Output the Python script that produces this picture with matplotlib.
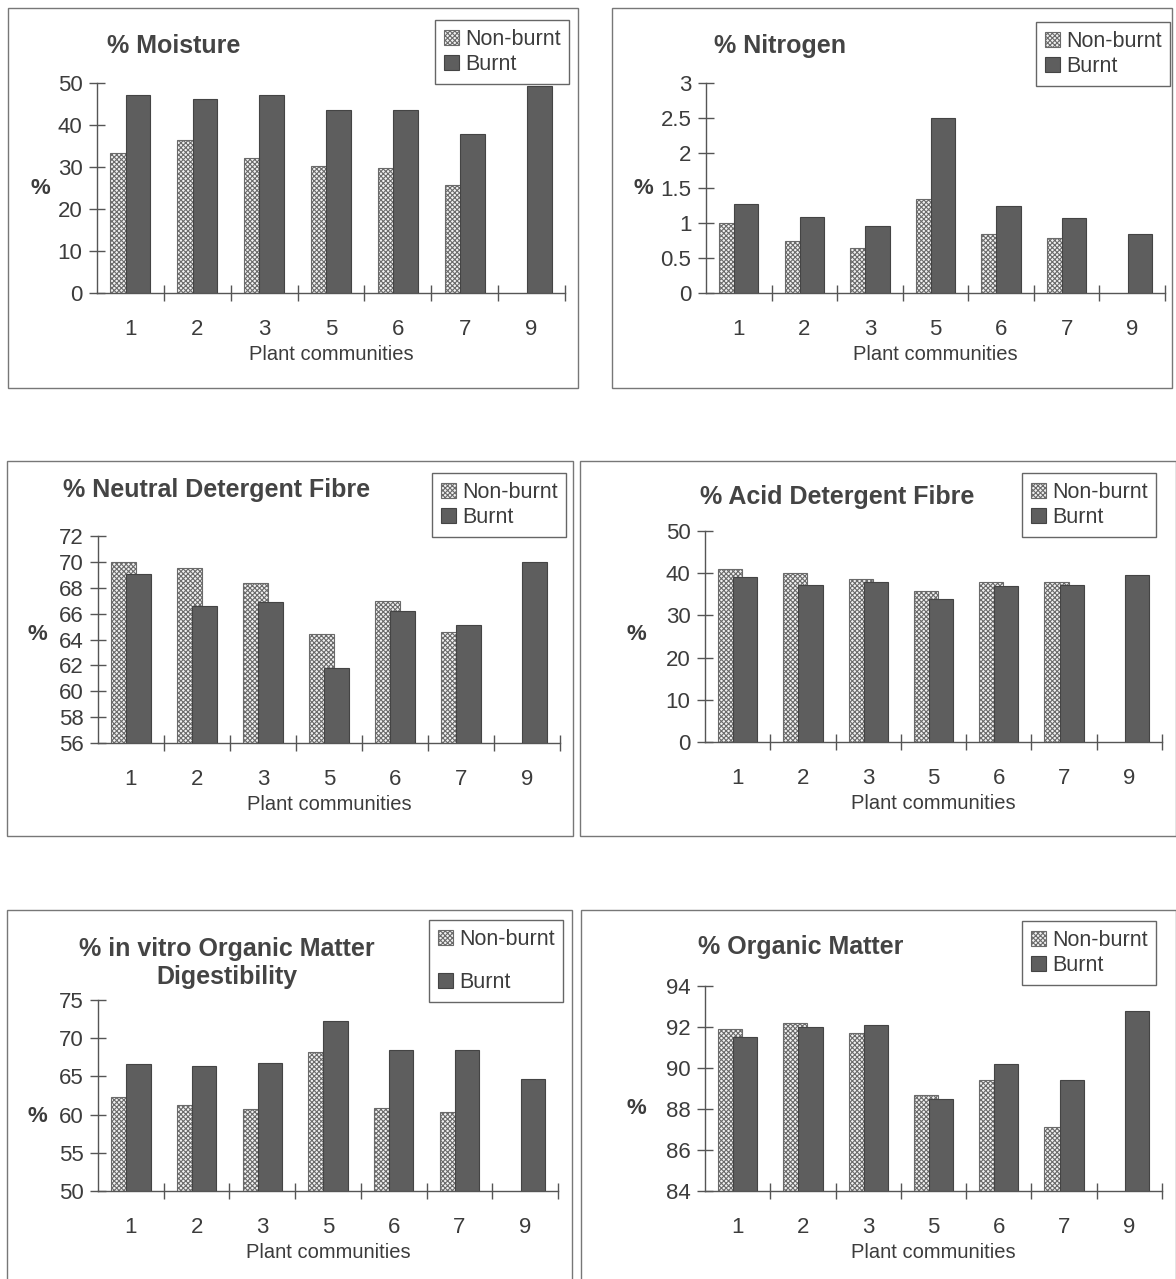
import matplotlib.pyplot as plt
import numpy as np
from matplotlib.patches import Rectangle, Patch

plt.rcParams['font.family'] = ['Liberation Sans', 'DejaVu Sans']
plt.rcParams['hatch.linewidth'] = 0.8

communities = ['1', '2', '3', '5', '6', '7', '9']

moisture_nb = [33.3, 36.5, 32.2, 30.2, 29.8, 25.8, np.nan]
moisture_b = [47.2, 46.1, 47.1, 43.6, 43.6, 37.8, 49.3]

nitrogen_nb = [1.0, 0.74, 0.65, 1.34, 0.85, 0.79, np.nan]
nitrogen_b = [1.27, 1.09, 0.96, 2.5, 1.25, 1.07, 0.84]

ndf_nb = [70.0, 69.5, 68.4, 64.4, 67.0, 64.6, np.nan]
ndf_b = [69.1, 66.6, 66.9, 61.8, 66.2, 65.1, 70.0]

adf_nb = [40.9, 40.0, 38.6, 35.7, 37.9, 37.9, np.nan]
adf_b = [39.1, 37.1, 38.0, 33.8, 37.0, 37.1, 39.5]

ivomd_nb = [62.3, 61.3, 60.7, 68.2, 60.8, 60.3, np.nan]
ivomd_b = [66.6, 66.3, 66.8, 72.3, 68.5, 68.5, 64.7]

om_nb = [91.9, 92.2, 91.7, 88.7, 89.4, 87.1, np.nan]
om_b = [91.5, 92.0, 92.1, 88.5, 90.2, 89.4, 92.8]

W, H = 1176, 1279
TXT = '#3c3c3c'
AXC = '#555555'
DARK = '#5e5e5e'
HATCH_EDGE = '#6a6a6a'

fig = plt.figure(figsize=(W / 100, H / 100), dpi=100)


def fx(x):
    return x / W


def fy(y):
    return 1 - y / H


# (title, non-burnt, burnt, ylim, ticks,
#  frame box, axes box, title x/y/align, legend top-left, legend row gap, % label xy)
panels = [
    ('% Moisture', moisture_nb, moisture_b, (0, 50), np.arange(0, 51, 10),
     (8, 8, 578, 388), (97, 83, 565, 293), (107, 46, 'left'), (435, 20), 0.2, (40, 188)),
    ('% Nitrogen', nitrogen_nb, nitrogen_b, (0, 3), np.arange(0, 3.01, 0.5),
     (612, 8, 1172, 388), (706, 83, 1165, 293), (714, 46, 'left'), (1036, 22), 0.2, (643, 188)),
    ('% Neutral Detergent Fibre', ndf_nb, ndf_b, (56, 72), np.arange(56, 73, 2),
     (7, 461, 573, 836), (98, 536, 560, 743), (63, 490, 'left'), (432, 473), 0.2, (37, 635)),
    ('% Acid Detergent Fibre', adf_nb, adf_b, (0, 50), np.arange(0, 51, 10),
     (580, 461, 1176, 836), (705, 531, 1162, 742), (700, 497, 'left'), (1022, 473), 0.2, (636, 634)),
    ('% in vitro Organic Matter\nDigestibility', ivomd_nb, ivomd_b, (50, 75), np.arange(50, 76, 5),
     (7, 910, 572, 1290), (98, 1000, 558, 1191), (227, 963, 'center'), (429, 920), 1.05, (37, 1117)),
    ('% Organic Matter', om_nb, om_b, (84, 94), np.arange(84, 95, 2),
     (581, 910, 1176, 1290), (705, 986, 1162, 1191), (698, 947, 'left'), (1022, 921), 0.2, (636, 1108)),
]

x = np.arange(len(communities))
bw = 0.37
shift = 0.115

for (title, nb, b, ylim, ticks, frame, abox, tpos, lpos, gap, ppos) in panels:
    # outer chart border
    fx0, fy0, fx1, fy1 = frame
    fig.patches.append(Rectangle((fx(fx0), fy(fy1)), fx(fx1 - fx0), (fy1 - fy0) / H,
                                 transform=fig.transFigure, fill=False,
                                 edgecolor='#777777', linewidth=1.0))

    l, t, r, btm = abox
    ax = fig.add_axes([fx(l), fy(btm), fx(r - l), (btm - t) / H])
    ax.set_facecolor('none')

    nb_arr = np.array(nb, dtype=float)
    ok = ~np.isnan(nb_arr)
    base = ylim[0]
    ax.bar(x[ok] - shift, nb_arr[ok] - base, bw, bottom=base, color='#f2f2f2',
           edgecolor=HATCH_EDGE, hatch='xxxxxxx', linewidth=0.8, zorder=2)
    ax.bar(x + shift, np.array(b) - base, bw, bottom=base, color=DARK,
           edgecolor='#444444', linewidth=0.8, zorder=3)

    ax.set_xlim(-0.5, len(communities) - 0.5)
    ax.set_ylim(*ylim)
    ax.set_yticks(ticks)
    ax.set_yticklabels(['{:g}'.format(v) for v in ticks])
    ax.set_xticks(x)
    ax.set_xticklabels(communities)
    ax.set_xticks(np.arange(0.5, len(communities) - 0.4, 1), minor=True)

    for s in ('top', 'right'):
        ax.spines[s].set_visible(False)
    for s in ('left', 'bottom'):
        ax.spines[s].set_color(AXC)
        ax.spines[s].set_linewidth(1.0)

    ax.tick_params(axis='y', direction='inout', length=11, width=1.0, color=AXC,
                   labelsize=16, labelcolor=TXT, pad=5)
    ax.tick_params(axis='x', which='major', length=0, labelsize=16,
                   labelcolor=TXT, pad=19)
    ax.tick_params(axis='x', which='minor', direction='inout', length=11,
                   width=1.0, color=AXC)
    ax.set_xlabel('Plant communities', fontsize=14.5, color=TXT, labelpad=3)

    # chart title
    tx, ty, ha = tpos
    fig.text(fx(tx), fy(ty), title, ha=ha, va='center', fontsize=18,
             fontweight='bold', color='#444444', linespacing=1.2)

    # y axis label
    fig.text(fx(ppos[0]), fy(ppos[1]), '%', ha='center', va='center',
             fontsize=16, fontweight='bold', color=TXT)

    # legend in its own box
    handles = [Patch(facecolor='#f2f2f2', edgecolor=HATCH_EDGE, hatch='xxxxxxx', linewidth=0.8),
               Patch(facecolor=DARK, edgecolor='#444444', linewidth=0.8)]
    fig.legend(handles, ['Non-burnt', 'Burnt'], loc='upper left',
               bbox_to_anchor=(fx(lpos[0]), fy(lpos[1])), bbox_transform=fig.transFigure,
               fontsize=15.5, frameon=True, fancybox=False, edgecolor='#666666',
               framealpha=1, handlelength=0.7, handleheight=0.7,
               handletextpad=0.3, borderpad=0.4, labelspacing=gap,
               borderaxespad=0, labelcolor=TXT)

fig.savefig('out.png', dpi=100, facecolor='white')
